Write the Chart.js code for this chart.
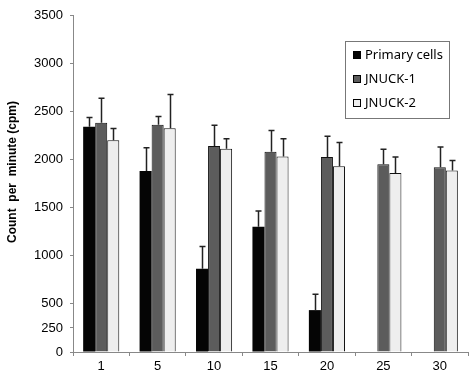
<!DOCTYPE html>
<html>
<head>
<meta charset="utf-8">
<script src="https://cdn.jsdelivr.net/npm/chart.js@4.4.1/dist/chart.umd.min.js"></script>
<style>
html,body{margin:0;padding:0;background:#fff;}
#wrap{width:474px;height:375px;position:relative;}
</style>
</head>
<body>
<div id="wrap"><canvas id="c" width="474" height="375"></canvas></div>
<script>
const categories = ['1','5','10','15','20','25','30'];
const primaryCells = [2340, 1880, 865, 1300, 435, null, null];
const primaryErr   = [95, 240, 230, 165, 165, null, null];
const jnuck1       = [2380, 2360, 2140, 2080, 2025, 1950, 1920];
const jnuck1Err    = [255, 85, 215, 220, 215, 155, 210];
const jnuck2       = [2200, 2325, 2110, 2030, 1930, 1860, 1885];
const jnuck2Err    = [120, 350, 105, 185, 245, 165, 105];
const yTicks = [0, 250, 500, 1000, 1500, 2000, 2500, 3000, 3500];
const seriesLabels = ['Primary cells', 'JNUCK-1', 'JNUCK-2'];
const yTitle = 'Count  per  minute (cpm)';

const errorBars = {
  id: 'errorBars',
  afterDatasetsDraw(chart) {
    const ctx = chart.ctx;
    const y = chart.scales.y;
    ctx.save();
    ctx.strokeStyle = '#222';
    ctx.lineWidth = 1.5;
    chart.data.datasets.forEach((ds, di) => {
      const meta = chart.getDatasetMeta(di);
      meta.data.forEach((bar, i) => {
        const v = ds.data[i], e = ds.errors[i];
        if (v == null || e == null) return;
        const x = Math.round(bar.x) + 0.5;
        const y0 = y.getPixelForValue(v);
        const y1 = y.getPixelForValue(v + e);
        ctx.beginPath();
        ctx.moveTo(x, y0);
        ctx.lineTo(x, y1);
        ctx.moveTo(x - 3, y1);
        ctx.lineTo(x + 3, y1);
        ctx.stroke();
      });
    });
    ctx.restore();
  }
};

const boxLegend = {
  id: 'boxLegend',
  afterDraw(chart) {
    const ctx = chart.ctx;
    const left = 345, top = 41, w = 104, h = 77;
    ctx.save();
    ctx.fillStyle = '#fff';
    ctx.fillRect(left, top, w, h);
    ctx.strokeStyle = '#777';
    ctx.lineWidth = 1;
    ctx.strokeRect(left + 0.5, top + 0.5, w, h);
    ctx.font = '13px "Noto Sans", "DejaVu Sans", sans-serif';
    ctx.textBaseline = 'middle';
    const rows = [55, 79, 103];
    chart.data.datasets.forEach((ds, i) => {
      const cy = rows[i];
      ctx.fillStyle = ds.backgroundColor;
      ctx.fillRect(353, cy - 4, 8, 8);
      ctx.strokeStyle = '#000';
      ctx.strokeRect(353.5, cy - 3.5, 7, 7);
      ctx.fillStyle = '#000';
      ctx.fillText(ds.label, 365, cy);
    });
    // y-axis title
    ctx.translate(13, 172);
    ctx.rotate(-Math.PI / 2);
    ctx.textAlign = 'center';
    ctx.textBaseline = 'middle';
    ctx.font = 'bold 12px "Liberation Sans", Arial, sans-serif';
    ctx.fillStyle = '#000';
    ctx.fillText(yTitle, 0, 0);
    ctx.restore();
  }
};

new Chart(document.getElementById('c'), {
  type: 'bar',
  data: {
    labels: categories,
    datasets: [
      { label: seriesLabels[0], data: primaryCells, errors: primaryErr, backgroundColor: '#050505', borderColor: '#000', borderWidth: 0 },
      { label: seriesLabels[1], data: jnuck1, errors: jnuck1Err, backgroundColor: '#5c5c5c', borderColor: '#111', borderWidth: 1 },
      { label: seriesLabels[2], data: jnuck2, errors: jnuck2Err, backgroundColor: '#eeeeee', borderColor: '#111', borderWidth: 1 }
    ]
  },
  options: {
    responsive: false,
    animation: false,
    layout: { padding: { left: 0, top: 15, right: 6, bottom: 0 } },
    datasets: { bar: { categoryPercentage: 0.64, barPercentage: 1.0 } },
    plugins: { legend: { display: false }, tooltip: { enabled: false } },
    scales: {
      x: {
        grid: { display: true, drawOnChartArea: false, drawTicks: true, tickLength: 4, color: '#888', offset: true },
        border: { display: true, color: '#888', width: 1 },
        ticks: { color: '#000', font: { family: 'Liberation Sans, Arial, sans-serif', size: 13 }, padding: 3 },
        afterFit(s) { s.height = 23; }
      },
      y: {
        min: 0, max: 3500,
        afterBuildTicks(s) { s.ticks = yTicks.map(v => ({ value: v })); },
        grid: { display: true, drawOnChartArea: false, drawTicks: true, tickLength: 3, color: '#888' },
        border: { display: true, color: '#888', width: 1 },
        ticks: { color: '#000', font: { family: 'Liberation Sans, Arial, sans-serif', size: 13 }, padding: 7, autoSkip: false, callback: (v) => String(v) },
        afterFit(s) { s.width = 73; }
      }
    }
  },
  plugins: [errorBars, boxLegend]
});
</script>
</body>
</html>
